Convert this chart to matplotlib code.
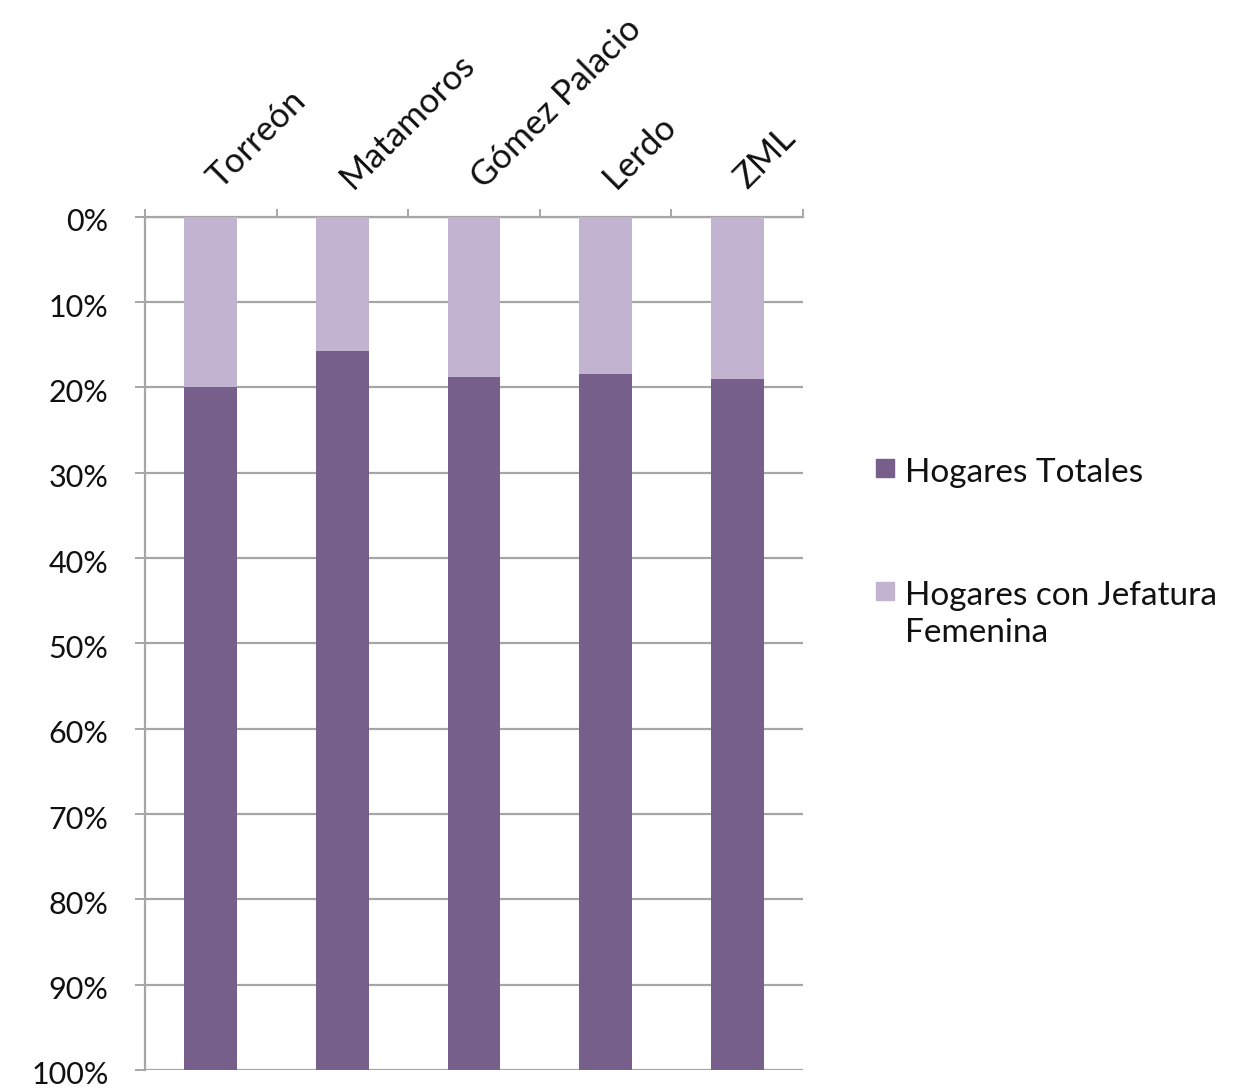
import matplotlib
matplotlib.use("Agg")
import matplotlib.pyplot as plt
from matplotlib.patches import Rectangle
import matplotlib.transforms as mtransforms
import numpy as np

plt.rcParams['font.family'] = ['Lato', 'DejaVu Sans']

categories = ["Torreón", "Matamoros", "Gómez Palacio", "Lerdo", "ZML"]
jefatura_femenina = [20.0, 15.7, 18.75, 18.4, 19.05]
hogares_totales = [80.0, 84.3, 81.25, 81.6, 80.95]
series_labels = ["Hogares Totales", "Hogares con Jefatura\nFemenina"]
y_ticks = [0, 10, 20, 30, 40, 50, 60, 70, 80, 90, 100]
y_labels = [f"{t}%" for t in y_ticks]

dark = "#765F8A"
light = "#C2B3D1"
grid = "#A6A6A6"
txt = "#111111"

W, H = 1236, 1090
fig = plt.figure(figsize=(W / 100, H / 100), dpi=100)
ax = fig.add_axes([145 / W, 1 - 1070 / H, (803 - 145) / W, (1070 - 216.7) / H])

x = np.arange(len(categories))
ax.bar(x, jefatura_femenina, width=0.4, color=light, zorder=3)
ax.bar(x, hogares_totales, width=0.4, bottom=jefatura_femenina, color=dark, zorder=3)

ax.set_xlim(-0.5, len(categories) - 0.5)
ax.set_ylim(100, 0)
ax.set_yticks(y_ticks)
ax.set_yticklabels(y_labels, fontsize=22, color=txt)
ax.yaxis.grid(True, color=grid, linewidth=1.6, zorder=0)
ax.tick_params(axis='y', length=7.2, width=1.4, color=grid, pad=19)
shift_down = mtransforms.ScaledTranslation(0, -3 / 100, fig.dpi_scale_trans)
for lab in ax.get_yticklabels():
    lab.set_transform(lab.get_transform() + shift_down)

ax.xaxis.tick_top()
ax.set_xticks(x)
ax.set_xticklabels(categories, rotation=45, ha='left', va='baseline',
                   rotation_mode='anchor', fontsize=25, color=txt)
ax.tick_params(axis='x', which='major', length=0, pad=19)
shift_right = mtransforms.ScaledTranslation(10 / 100, 0, fig.dpi_scale_trans)
for lab in ax.get_xticklabels():
    lab.set_transform(lab.get_transform() + shift_right)
ax.set_xticks(np.arange(-0.5, len(categories), 1), minor=True)
ax.tick_params(axis='x', which='minor', length=6, width=1.4, color=grid, direction='out')

for s in ['right', 'bottom']:
    ax.spines[s].set_visible(False)
for s in ['left', 'top']:
    ax.spines[s].set_color(grid)
    ax.spines[s].set_linewidth(1.6)

# legend (squares + labels), drawn in figure pixel coordinates
leg_colors = [dark, light]
leg_first_baselines = [482, 605]
line_px = 37
for col, lab, base in zip(leg_colors, series_labels, leg_first_baselines):
    fig.patches.append(Rectangle((876 / W, 1 - (base - 5) / H), 18 / W, 18 / H,
                                 transform=fig.transFigure, color=col, figure=fig))
    lines = lab.split("\n")
    for i, line in enumerate(lines):
        fig.text(905 / W, 1 - (base + i * line_px) / H, line, fontsize=24, color=txt,
                 ha='left', va='baseline')

fig.savefig("out.png", dpi=100, facecolor="white")
